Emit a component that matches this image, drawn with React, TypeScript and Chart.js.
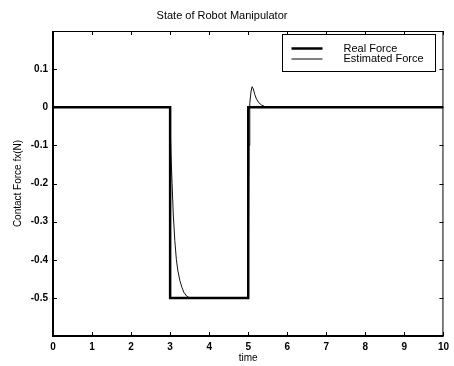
import React, { useEffect, useRef } from 'react';
import { Chart, registerables } from 'chart.js';

Chart.register(...registerables);

const titleText = 'State of Robot Manipulator';
const xTitle = 'time';
const yTitle = 'Contact Force fx(N)';
const seriesNames = ['Real Force', 'Estimated Force'];

const realTime = [0, 3, 3, 5, 5, 10];
const realForce = [0, 0, -0.5, -0.5, 0, 0];

const estTime = [
  0, 2.99, 3.02, 3.05, 3.08, 3.12, 3.16, 3.2, 3.25, 3.3, 3.35, 3.42, 3.5,
  5.0, 5.02, 5.04, 5.07, 5.1, 5.13, 5.17, 5.21, 5.27, 5.34, 5.42, 5.55, 10,
];
const estForce = [
  0, 0, -0.12, -0.2, -0.28, -0.35, -0.4, -0.43, -0.455, -0.472, -0.485, -0.495, -0.5,
  -0.5, -0.1, 0.01, 0.04, 0.054, 0.048, 0.033, 0.022, 0.012, 0.006, 0.002, 0, 0,
];

const xTickValues = [0, 1, 2, 3, 4, 5, 6, 7, 8, 9, 10];
const xTickLabels = ['0', '1', '2', '3', '4', '5', '6', '7', '8', '9', '10'];
const yTickValues = [0.2, 0.1, 0, -0.1, -0.2, -0.3, -0.4, -0.5, -0.6];
const yTickLabels = ['', '0.1', '0', '-0.1', '-0.2', '-0.3', '-0.4', '-0.5', ''];

const FONT = "'Liberation Sans', Arial, sans-serif";

function labelFor(values: number[], labels: string[], v: number) {
  const i = values.findIndex((t) => Math.abs(t - v) < 1e-6);
  return i >= 0 ? labels[i] : '';
}

const framePlugin = {
  id: 'matlabFrame',
  afterDraw(chart: any) {
    const ctx = chart.ctx;
    const a = chart.chartArea;
    const xs = chart.scales.x;
    const ys = chart.scales.y;
    ctx.save();
    ctx.strokeStyle = '#000';
    // frame
    ctx.lineWidth = 1;
    ctx.beginPath();
    ctx.moveTo(a.left, a.top + 0.5);
    ctx.lineTo(a.right, a.top + 0.5);
    ctx.moveTo(a.right - 0.5, a.top);
    ctx.lineTo(a.right - 0.5, a.bottom);
    ctx.stroke();
    ctx.lineWidth = 2;
    ctx.beginPath();
    ctx.moveTo(a.left, a.top);
    ctx.lineTo(a.left, a.bottom);
    ctx.lineTo(a.right, a.bottom);
    ctx.stroke();
    // inward ticks
    ctx.lineWidth = 1;
    ctx.beginPath();
    const tl = 4;
    xTickValues.forEach((v) => {
      const px = Math.round(xs.getPixelForValue(v)) + 0.5;
      ctx.moveTo(px, a.bottom);
      ctx.lineTo(px, a.bottom - tl);
      ctx.moveTo(px, a.top);
      ctx.lineTo(px, a.top + tl);
    });
    yTickValues.forEach((v) => {
      const py = Math.round(ys.getPixelForValue(v)) + 0.5;
      ctx.moveTo(a.left, py);
      ctx.lineTo(a.left + tl, py);
      ctx.moveTo(a.right, py);
      ctx.lineTo(a.right - tl, py);
    });
    ctx.stroke();

    // legend
    const bw = 153;
    const bh = 37;
    const bx = Math.round(a.right - 8 - bw) + 0.5;
    const by = Math.round(a.top + 3) + 0.5;
    ctx.fillStyle = '#fff';
    ctx.fillRect(bx, by, bw, bh);
    ctx.lineWidth = 1;
    ctx.strokeRect(bx, by, bw, bh);
    const rows = [
      { y: by + 14, w: chart.data.datasets[0].borderWidth, text: chart.data.datasets[0].label },
      { y: by + 24.5, w: chart.data.datasets[1].borderWidth, text: chart.data.datasets[1].label },
    ];
    ctx.fillStyle = '#000';
    ctx.font = `11px ${FONT}`;
    ctx.textBaseline = 'middle';
    ctx.textAlign = 'left';
    rows.forEach((r) => {
      ctx.lineWidth = r.w;
      ctx.beginPath();
      ctx.moveTo(bx + 9, r.y);
      ctx.lineTo(bx + 40, r.y);
      ctx.stroke();
      ctx.fillText(r.text, bx + 61, r.y);
    });
    ctx.restore();
  },
};

export default function App() {
  const ref = useRef<HTMLCanvasElement>(null);
  useEffect(() => {
    document.body.style.margin = '0';
    const canvas = ref.current;
    if (!canvas) return;
    const realData = realTime.map((t, i) => ({ x: t, y: realForce[i] }));
    const estData = estTime.map((t, i) => ({ x: t, y: estForce[i] }));
    const chart = new Chart(canvas, {
      type: 'line',
      data: {
        datasets: [
          {
            label: seriesNames[0],
            data: realData,
            borderColor: '#000',
            borderWidth: 2.5,
            pointRadius: 0,
            tension: 0,
            fill: false,
          },
          {
            label: seriesNames[1],
            data: estData,
            borderColor: '#111',
            borderWidth: 1,
            pointRadius: 0,
            tension: 0,
            fill: false,
          },
        ],
      },
      options: {
        responsive: false,
        animation: false,
        layout: { padding: { left: 0, right: 10, top: 0, bottom: 0 } },
        plugins: {
          legend: { display: false },
          tooltip: { enabled: false },
          title: {
            display: true,
            text: titleText,
            color: '#000',
            font: { family: FONT, size: 11, weight: 'normal', lineHeight: 1 },
            padding: { top: 10, bottom: 10 },
          },
        },
        scales: {
          x: {
            type: 'linear',
            min: 0,
            max: 10,
            grid: { display: false, drawTicks: false },
            border: { display: false },
            ticks: {
              stepSize: 1,
              autoSkip: false,
              maxRotation: 0,
              padding: 5,
              color: '#000',
              font: { family: FONT, size: 10, weight: 'bold' },
              callback: (v: any) => labelFor(xTickValues, xTickLabels, Number(v)),
            },
            title: {
              display: true,
              text: xTitle,
              color: '#000',
              font: { family: FONT, size: 10 },
              padding: { top: 0, bottom: 2 },
            },
            afterFit: (s: any) => {
              s.height = 30;
            },
          },
          y: {
            type: 'linear',
            min: -0.6,
            max: 0.2,
            grid: { display: false, drawTicks: false },
            border: { display: false },
            ticks: {
              stepSize: 0.1,
              autoSkip: false,
              padding: 5,
              color: '#000',
              font: { family: FONT, size: 10, weight: 'bold' },
              callback: (v: any) => labelFor(yTickValues, yTickLabels, Number(v)),
            },
            title: {
              display: true,
              text: yTitle,
              color: '#000',
              font: { family: FONT, size: 10 },
              padding: { top: 12, bottom: 0 },
            },
            afterFit: (s: any) => {
              s.width = 53;
            },
          },
        },
      },
      plugins: [framePlugin],
    } as any);
    return () => chart.destroy();
  }, []);
  return (
    <div style={{ width: 454, height: 366, background: '#fff' }}>
      <canvas ref={ref} width={454} height={366} style={{ display: 'block' }} />
    </div>
  );
}
